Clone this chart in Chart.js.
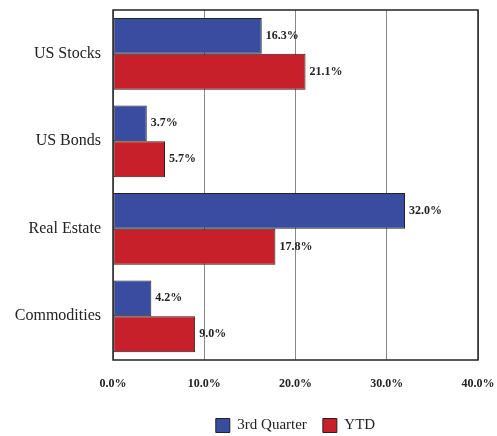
<!DOCTYPE html>
<html>
<head>
<meta charset="utf-8">
<script src="https://cdn.jsdelivr.net/npm/chart.js@4/dist/chart.umd.min.js"></script>
<style>
  body { margin: 0; background: #fff; }
  canvas { display: block; }
</style>
</head>
<body>
<canvas id="chart1" width="497" height="436"></canvas>
<script>
const categories = ["US Stocks", "US Bonds", "Real Estate", "Commodities"];
const quarterValues = [16.3, 3.7, 32.0, 4.2];
const ytdValues = [21.1, 5.7, 17.8, 9.0];
const seriesNames = ["3rd Quarter", "YTD"];
const tickMax = 40;
const tickStep = 10;

const serif = "'Liberation Serif', 'DejaVu Serif', serif";

// box round the plot area, legend centred under the plot
const frameBox = {
  id: "frameBox",
  afterLayout(chart) {
    chart.legend.left = chart.chartArea.left;
    chart.legend.right = chart.chartArea.right;
  },
  afterDraw(chart) {
    const a = chart.chartArea;
    const ctx = chart.ctx;
    ctx.save();
    ctx.strokeStyle = "#222";
    ctx.lineWidth = 1.5;
    ctx.strokeRect(a.left, a.top, a.right - a.left, a.bottom - a.top);
    ctx.restore();
  }
};

// value labels at the end of each bar
const barLabels = {
  id: "barLabels",
  afterDatasetsDraw(chart) {
    const ctx = chart.ctx;
    ctx.save();
    ctx.font = "bold 12px " + serif;
    ctx.fillStyle = "#222";
    ctx.textAlign = "left";
    ctx.textBaseline = "middle";
    chart.data.datasets.forEach(function (ds, i) {
      chart.getDatasetMeta(i).data.forEach(function (bar, j) {
        ctx.fillText(ds.data[j].toFixed(1) + "%", bar.x + 4, bar.y);
      });
    });
    ctx.restore();
  }
};

const ctx = document.getElementById("chart1").getContext("2d");
const myChart = new Chart(ctx, {
  type: "bar",
  data: {
    labels: categories,
    datasets: [
      {
        label: seriesNames[0],
        data: quarterValues,
        backgroundColor: "#3a4ca0",
        borderColor: "#222",
        borderWidth: 1,
        borderSkipped: false,
        categoryPercentage: 0.82,
        barPercentage: 1.0,
      },
      {
        label: seriesNames[1],
        data: ytdValues,
        backgroundColor: "#c8202a",
        borderColor: "#222",
        borderWidth: 1,
        borderSkipped: false,
        categoryPercentage: 0.82,
        barPercentage: 1.0,
      },
    ],
  },
  options: {
    indexAxis: "y",
    responsive: false,
    animation: false,
    layout: { padding: { top: 10, right: 19, left: 0, bottom: -7 } },
    scales: {
      x: {
        min: 0,
        max: tickMax,
        ticks: {
          stepSize: tickStep,
          color: "#222",
          font: { family: serif, size: 12, weight: "bold" },
          padding: 17,
          callback: function (v) { return v.toFixed(1) + "%"; },
        },
        grid: { color: "#888", lineWidth: 1, drawTicks: false },
        border: { display: false },
        afterFit: function (scale) {
          scale.height = 42;
          scale.paddingLeft = 0;
          scale.paddingRight = 0;
        },
      },
      y: {
        ticks: {
          color: "#222",
          font: { family: serif, size: 16 },
          padding: 12,
        },
        grid: { display: false, drawTicks: false },
        border: { display: false },
        afterFit: function (scale) {
          scale.width = 113;
          scale.paddingTop = 0;
          scale.paddingBottom = 0;
        },
      },
    },
    plugins: {
      legend: {
        position: "bottom",
        labels: {
          color: "#222",
          font: { family: serif, size: 15 },
          boxWidth: 14,
          boxHeight: 14,
          padding: 16,
        },
      },
      tooltip: { enabled: false },
    },
  },
  plugins: [frameBox, barLabels],
});
</script>
</body>
</html>
